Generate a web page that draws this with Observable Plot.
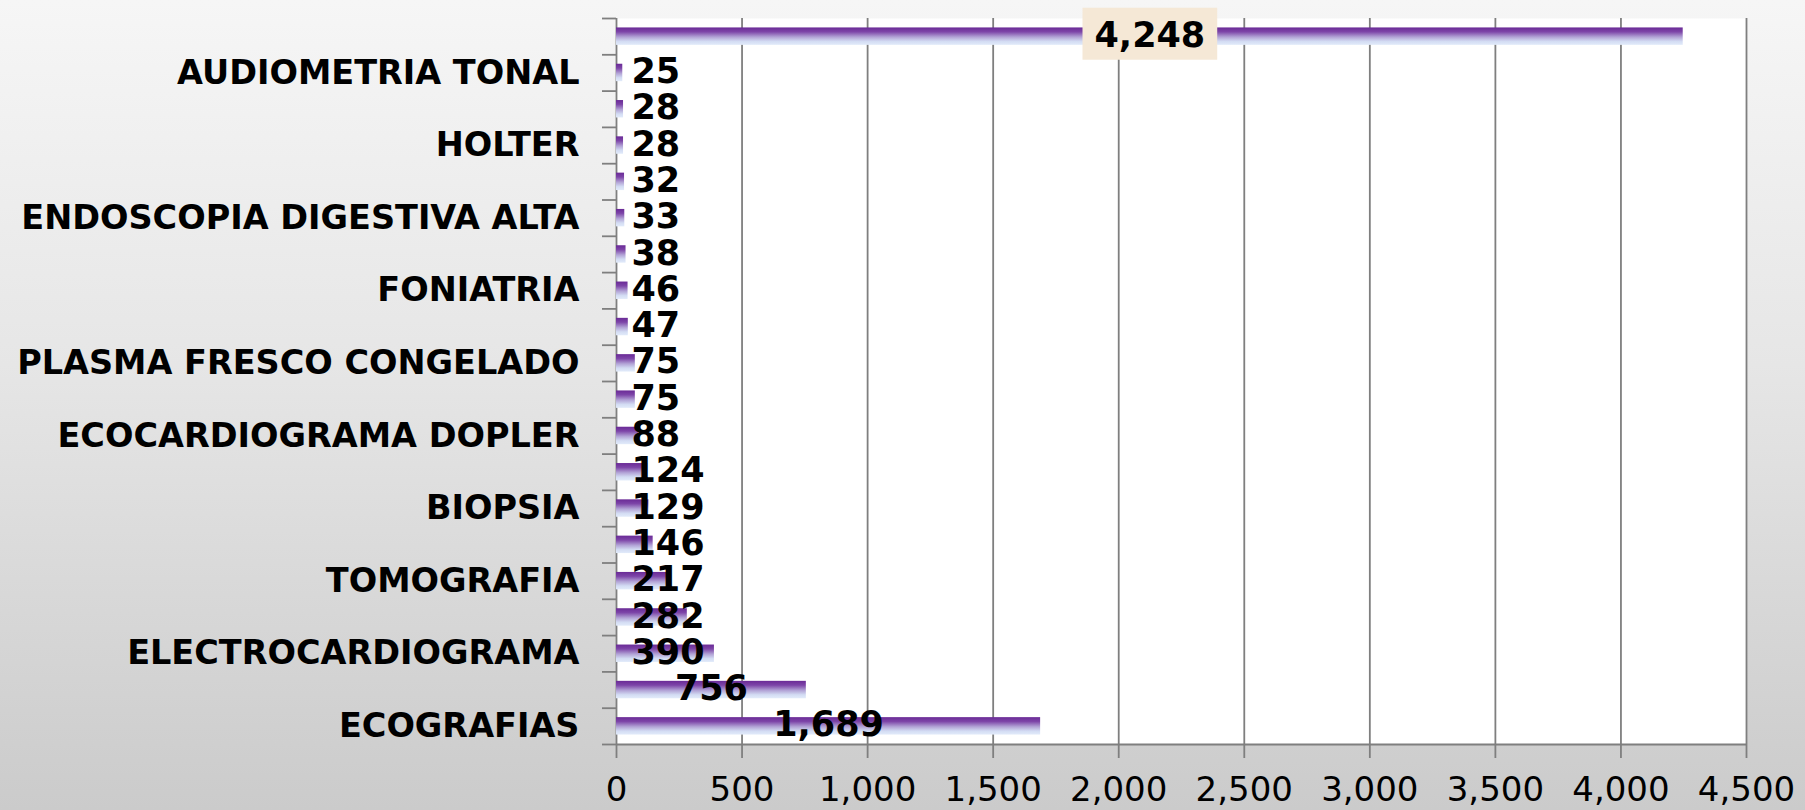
<!DOCTYPE html>
<html>
<head>
<meta charset="utf-8">
<script src="https://cdn.jsdelivr.net/npm/d3@7"></script>
<script src="https://cdn.jsdelivr.net/npm/@observablehq/plot@0.6"></script>
<style>
  html, body { margin: 0; padding: 0; width: 1805px; height: 810px; overflow: hidden; }
  body { background: linear-gradient(180deg, #f6f6f6 0%, #e6e6e6 45%, #cbcbcb 100%); }
  #chart svg { display: block; }
</style>
</head>
<body>
<div id="chart"></div>
<script>
// Categories, bottom to top (only every other one carries a visible label)
const labels = ["ECOGRAFIAS", null, "ELECTROCARDIOGRAMA", null, "TOMOGRAFIA", null, "BIOPSIA", null,
  "ECOCARDIOGRAMA DOPLER", null, "PLASMA FRESCO CONGELADO", null, "FONIATRIA", null,
  "ENDOSCOPIA DIGESTIVA ALTA", null, "HOLTER", null, "AUDIOMETRIA TONAL", null];
const values = [1689, 756, 390, 282, 217, 146, 129, 124, 88, 75, 75, 47, 46, 38, 33, 32, 28, 28, 25, 4248];
const xTicks = [0, 500, 1000, 1500, 2000, 2500, 3000, 3500, 4000, 4500];

const data = values.map((v, i) => ({i, value: v, label: labels[i]}));
const labeled = data.filter(d => d.label);
const boundaries = d3.range(values.length + 1);
const maxValue = d3.max(values);
const fmt = d3.format(",");
const gray = "#7f7f7f";
const FONT = "DejaVu Sans";

const chart = Plot.plot({
  width: 1805,
  height: 810,
  marginLeft: 616,
  marginRight: 59,
  marginTop: 18,
  marginBottom: 66,
  style: {background: "transparent", fontFamily: FONT, color: "black"},
  x: {domain: [0, 4500]},
  y: {domain: [0, values.length]},
  marks: [
    Plot.frame({fill: "white", stroke: "none"}),
    Plot.ruleX(xTicks, {stroke: gray, strokeWidth: 1.8}),
    Plot.rectX(data, {x1: 0, x2: "value", y1: d => d.i + 0.26, y2: d => d.i + 0.74, fill: "url(#barGrad)"}),
    Plot.ruleY([0], {stroke: gray, strokeWidth: 1.8}),
    Plot.axisY({ticks: boundaries, tickSize: 14, tickFormat: () => "", stroke: gray, strokeWidth: 1.8}),
    Plot.axisX({ticks: xTicks, tickSize: 14, tickPadding: 18, tickFormat: fmt, stroke: gray, strokeWidth: 1.8,
      fontSize: 34, fill: "black", label: null}),
    Plot.text(labeled, {x: 0, y: d => d.i + 0.5, text: "label", textAnchor: "end", dx: -37,
      fontSize: 33.5, fontWeight: "bold", fill: "black"}),
    Plot.text(data, {x: d => d.value / 2, y: d => d.i + 0.5, text: d => fmt(d.value), textAnchor: "middle",
      fontSize: 35, fontWeight: "bold", fill: "black", lineHeight: 0.9})
  ]
});

document.getElementById("chart").appendChild(chart);

// bar gradient
const ns = "http://www.w3.org/2000/svg";
const defs = document.createElementNS(ns, "defs");
defs.innerHTML = `<linearGradient id="barGrad" x1="0" y1="0" x2="0" y2="1">
  <stop offset="0%" stop-color="#6a2a96"/>
  <stop offset="25%" stop-color="#7d45a8"/>
  <stop offset="55%" stop-color="#b2a3d6"/>
  <stop offset="80%" stop-color="#d3dcf3"/>
  <stop offset="100%" stop-color="#e2ebfa"/>
</linearGradient>`;
chart.insertBefore(defs, chart.firstChild);

// position value labels: centred in the bar, but not closer than 17px to the axis; box behind the maximum
const xs = chart.scale("x");
const x0 = xs.apply(0);
const textGroups = chart.querySelectorAll('g[aria-label="text"]');
const g = textGroups[textGroups.length - 1];
const texts = g.querySelectorAll("text");
texts.forEach((t, j) => {
  const d = data[j];
  const bb = t.getBBox();
  const cur = xs.apply(d.value / 2);
  const want = Math.max(cur, x0 + 15 + bb.width / 2);
  const delta = want - cur;
  if (delta) t.setAttribute("transform", ((t.getAttribute("transform") || "") + ` translate(${delta},0)`).trim());
  if (d.value === maxValue) {
    const b = t.getBBox();
    const ctm = t.transform.baseVal.consolidate();
    const m = ctm ? ctm.matrix : {e: 0, f: 0};
    const r = document.createElementNS(ns, "rect");
    r.setAttribute("x", b.x + m.e - 12);
    r.setAttribute("y", b.y + m.f - 7);
    r.setAttribute("width", b.width + 24);
    r.setAttribute("height", b.height + 12);
    r.setAttribute("fill", "#f5e8d6");
    g.insertBefore(r, g.firstChild);
  }
});
</script>
</body>
</html>
